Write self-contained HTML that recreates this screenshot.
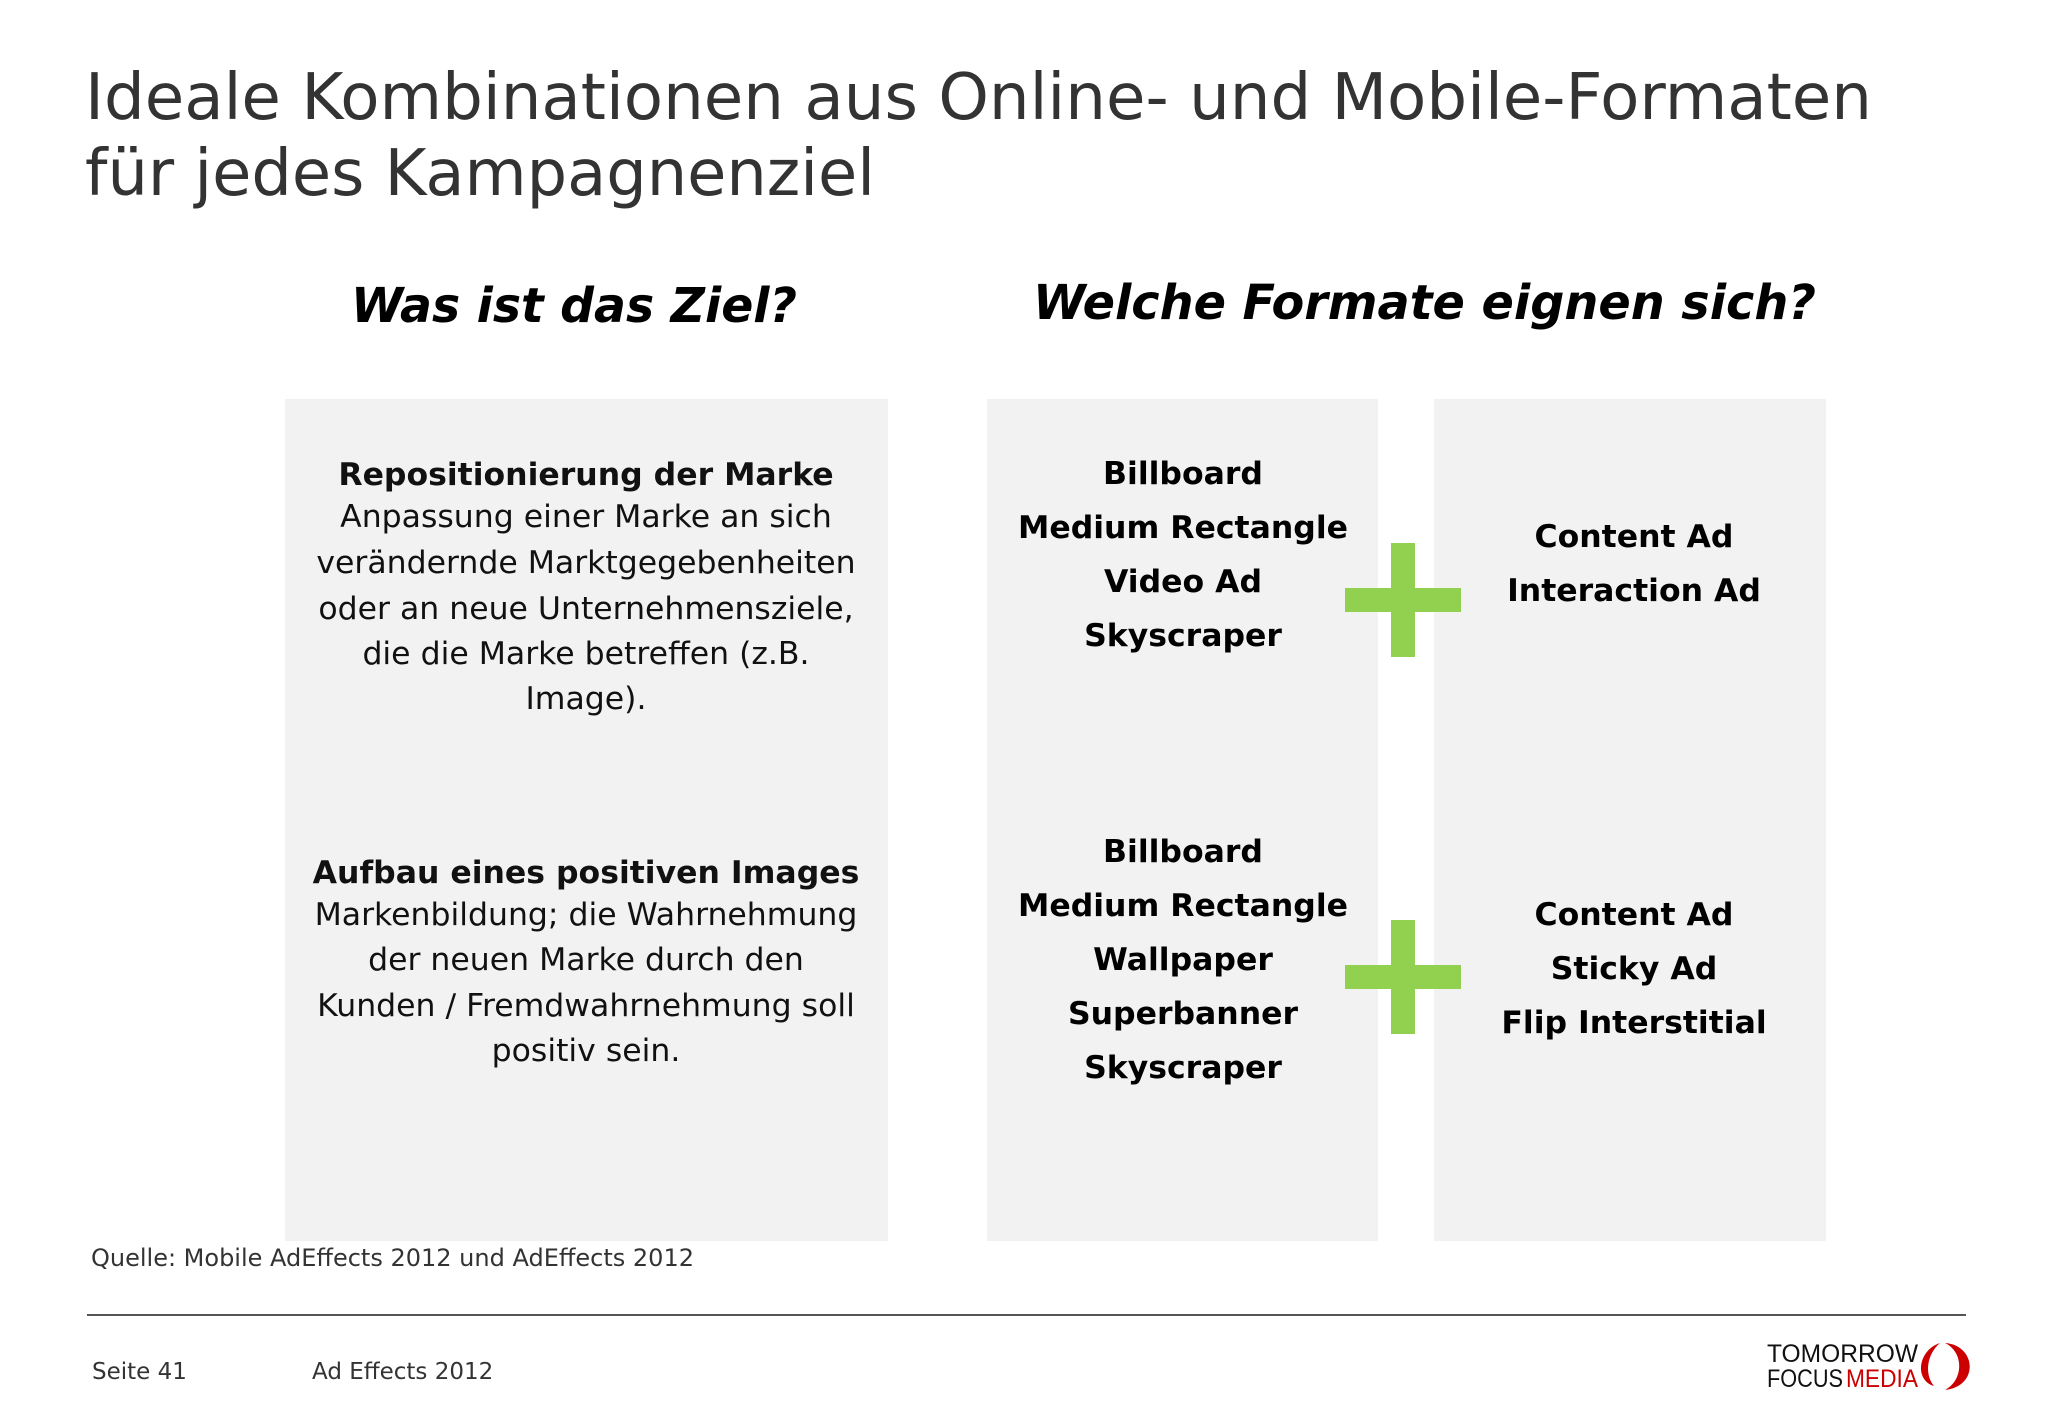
<!DOCTYPE html>
<html><head><meta charset="utf-8"><style>
html,body{margin:0;padding:0;background:#fff;}
svg{display:block;font-family:"DejaVu Sans","Liberation Sans",sans-serif;}
</style></head><body>
<svg width="2048" height="1418" viewBox="0 0 2048 1418" xmlns="http://www.w3.org/2000/svg">
<g fill="#333" font-size="64">
<text x="85" y="119" textLength="1787" lengthAdjust="spacingAndGlyphs">Ideale Kombinationen aus Online- und Mobile-Formaten</text>
<text x="85" y="195" textLength="790" lengthAdjust="spacingAndGlyphs">für jedes Kampagnenziel</text>
</g>
<text x="351" y="322" font-size="48" font-weight="bold" font-style="italic" fill="#000" textLength="446" lengthAdjust="spacingAndGlyphs">Was ist das Ziel?</text>
<text x="1033" y="319" font-size="48" font-weight="bold" font-style="italic" fill="#000" textLength="783" lengthAdjust="spacingAndGlyphs">Welche Formate eignen sich?</text>

<rect x="285" y="399" width="603" height="842" fill="#f2f2f2"/>
<rect x="987" y="399" width="391" height="842" fill="#f2f2f2"/>
<rect x="1434" y="399" width="392" height="842" fill="#f2f2f2"/>

<g text-anchor="middle" font-size="31.5" fill="#111">
<text x="586" y="485" font-weight="bold">Repositionierung der Marke</text>
<text x="586" y="527">Anpassung einer Marke an sich</text>
<text x="586" y="573">verändernde Marktgegebenheiten</text>
<text x="586" y="619">oder an neue Unternehmensziele,</text>
<text x="586" y="664">die die Marke betreffen (z.B.</text>
<text x="586" y="709">Image).</text>
<text x="586" y="883" font-weight="bold">Aufbau eines positiven Images</text>
<text x="586" y="925">Markenbildung; die Wahrnehmung</text>
<text x="586" y="970">der neuen Marke durch den</text>
<text x="586" y="1016">Kunden / Fremdwahrnehmung soll</text>
<text x="586" y="1061">positiv sein.</text>
</g>

<g text-anchor="middle" font-size="31.5" font-weight="bold" fill="#000">
<text x="1183" y="484">Billboard</text>
<text x="1183" y="538">Medium Rectangle</text>
<text x="1183" y="592">Video Ad</text>
<text x="1183" y="646">Skyscraper</text>
<text x="1183" y="862">Billboard</text>
<text x="1183" y="916">Medium Rectangle</text>
<text x="1183" y="970">Wallpaper</text>
<text x="1183" y="1024">Superbanner</text>
<text x="1183" y="1078">Skyscraper</text>
</g>
<g text-anchor="middle" font-size="31.5" font-weight="bold" fill="#000">
<text x="1634" y="547">Content Ad</text>
<text x="1634" y="601">Interaction Ad</text>
<text x="1634" y="925">Content Ad</text>
<text x="1634" y="979">Sticky Ad</text>
<text x="1634" y="1033">Flip Interstitial</text>
</g>

<g fill="#92d050">
<rect x="1345" y="588" width="116" height="24"/><rect x="1391" y="543" width="24" height="114"/>
</g>
<g fill="#92d050">
<rect x="1345" y="965" width="116" height="24"/><rect x="1391" y="920" width="24" height="114"/>
</g>

<text x="91" y="1266" font-size="24" fill="#333">Quelle: Mobile AdEffects 2012 und AdEffects 2012</text>
<line x1="87" y1="1315" x2="1966" y2="1315" stroke="#555" stroke-width="2"/>
<text x="92" y="1379" font-size="23" fill="#333">Seite 41</text>
<text x="312" y="1379" font-size="23" fill="#333">Ad Effects 2012</text>

<g>
<text x="1767" y="1362" font-size="25" fill="#111" font-family="Liberation Sans, sans-serif" textLength="151" lengthAdjust="spacingAndGlyphs">TOMORROW</text>
<text x="1767" y="1387" font-size="25" fill="#111" font-family="Liberation Sans, sans-serif" textLength="76" lengthAdjust="spacingAndGlyphs">FOCUS</text>
<text x="1846" y="1387" font-size="25" fill="#c00" font-family="Liberation Sans, sans-serif" textLength="72" lengthAdjust="spacingAndGlyphs">MEDIA</text>
<path d="M1940,1343 C1918,1350 1914,1380 1934,1386 C1924,1374 1927,1354 1940,1343 Z" fill="#c00"/>
<path d="M1945,1343 C1976,1345 1980,1386 1945,1390 C1964,1380 1964,1352 1945,1343 Z" fill="#c00"/>
</g>
</svg>
</body></html>
